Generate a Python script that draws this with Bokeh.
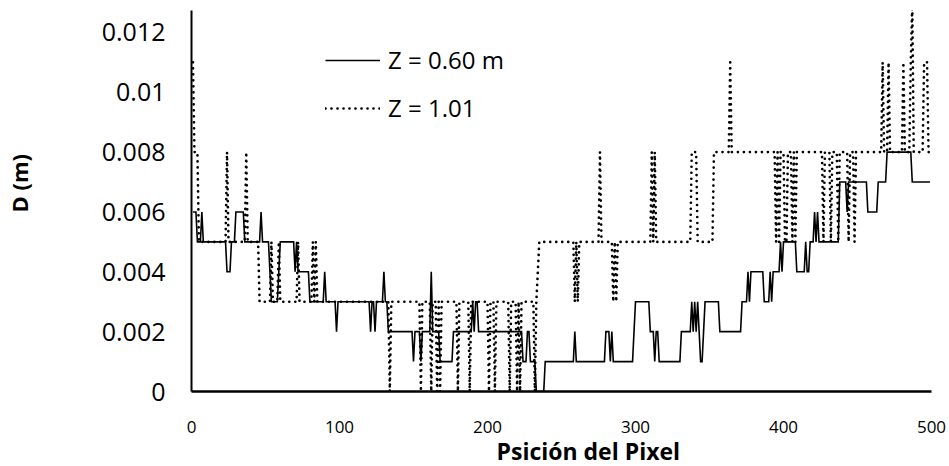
from bokeh.plotting import figure
from bokeh.models import Range1d, FixedTicker, Legend, LegendItem, Title
from bokeh.embed import file_html
from bokeh.resources import INLINE

# Pixel positions and depth readings (m) at the break points of each profile
z060_x = [1, 3, 4, 6, 7, 8, 23, 24, 26, 27, 29, 30, 35, 36, 46, 47, 48, 52, 53, 54,
          58, 59, 60, 69, 70, 71, 72, 79, 80, 89, 90, 91, 97, 98, 99, 120, 121, 122, 123, 124,
          125, 129, 130, 131, 132, 133, 149, 150, 151, 154, 155, 156, 161, 162, 163, 167, 168, 176, 177, 189,
          190, 191, 192, 193, 194, 223, 224, 226, 227, 228, 229, 232, 233, 238, 239, 258, 259, 260, 279, 280,
          282, 283, 284, 285, 298, 299, 300, 309, 310, 312, 313, 314, 315, 316, 330, 331, 337, 338, 339, 340,
          341, 342, 343, 344, 345, 346, 347, 356, 357, 371, 372, 375, 376, 377, 378, 386, 387, 390, 391, 392,
          393, 397, 398, 399, 400, 408, 409, 414, 415, 416, 417, 418, 420, 421, 422, 423, 424, 437, 438, 442,
          443, 444, 456, 457, 463, 464, 469, 470, 486, 487, 499]
z060_d = [0.006, 0.006, 0.005, 0.005, 0.006, 0.005, 0.005, 0.004, 0.004, 0.005, 0.005, 0.006, 0.006, 0.005, 0.005, 0.006, 0.005, 0.005, 0.004, 0.003,
          0.003, 0.004, 0.005, 0.005, 0.004, 0.005, 0.004, 0.004, 0.003, 0.003, 0.004, 0.003, 0.003, 0.002, 0.003, 0.003, 0.002, 0.003, 0.003, 0.002,
          0.003, 0.003, 0.004, 0.003, 0.003, 0.002, 0.002, 0.001, 0.002, 0.002, 0.001, 0.002, 0.002, 0.004, 0.002, 0.002, 0.001, 0.001, 0.002, 0.002,
          0.003, 0.002, 0.003, 0.003, 0.002, 0.002, 0.001, 0.001, 0.002, 0.002, 0.001, 0.001, 0.0, 0.0, 0.001, 0.001, 0.002, 0.001, 0.001, 0.002,
          0.002, 0.001, 0.002, 0.001, 0.001, 0.002, 0.003, 0.003, 0.002, 0.002, 0.001, 0.002, 0.002, 0.001, 0.001, 0.002, 0.002, 0.003, 0.002, 0.003,
          0.002, 0.003, 0.002, 0.001, 0.001, 0.002, 0.003, 0.003, 0.002, 0.002, 0.003, 0.003, 0.004, 0.003, 0.004, 0.004, 0.003, 0.003, 0.004, 0.003,
          0.004, 0.004, 0.005, 0.004, 0.005, 0.005, 0.004, 0.004, 0.005, 0.004, 0.004, 0.005, 0.005, 0.006, 0.005, 0.006, 0.005, 0.005, 0.007, 0.007,
          0.006, 0.007, 0.007, 0.006, 0.006, 0.007, 0.007, 0.008, 0.008, 0.007, 0.007]

z101_x = [1, 2, 4, 5, 23, 24, 25, 36, 37, 38, 45, 46, 53, 54, 55, 58, 59, 60, 71, 72,
          73, 81, 82, 83, 84, 85, 133, 134, 135, 154, 155, 156, 161, 162, 163, 165, 166, 167, 168, 169,
          179, 180, 181, 187, 188, 189, 200, 201, 202, 204, 205, 206, 214, 215, 216, 219, 220, 221, 222, 223,
          231, 232, 233, 234, 235, 258, 259, 260, 261, 262, 275, 276, 277, 284, 285, 286, 287, 288, 310, 311,
          312, 313, 314, 337, 338, 341, 342, 352, 353, 363, 364, 365, 394, 395, 396, 397, 398, 400, 401, 402,
          403, 405, 406, 407, 408, 409, 426, 427, 428, 431, 432, 433, 436, 437, 438, 443, 444, 445, 447, 448,
          449, 466, 467, 468, 470, 471, 472, 480, 481, 482, 485, 486, 487, 488, 494, 495, 497, 498, 499]
z101_d = [0.011, 0.008, 0.008, 0.005, 0.005, 0.008, 0.005, 0.005, 0.008, 0.005, 0.005, 0.003, 0.003, 0.005, 0.003, 0.003, 0.005, 0.003, 0.003, 0.005,
          0.003, 0.003, 0.005, 0.003, 0.005, 0.003, 0.003, 0.0, 0.003, 0.003, 0.0, 0.003, 0.003, 0.0, 0.003, 0.003, 0.0, 0.003, 0.0, 0.003,
          0.003, 0.0, 0.003, 0.003, 0.0, 0.003, 0.003, 0.0, 0.003, 0.003, 0.0, 0.003, 0.003, 0.0, 0.003, 0.003, 0.0, 0.003, 0.0, 0.003,
          0.003, 0.0, 0.003, 0.004, 0.005, 0.005, 0.003, 0.005, 0.003, 0.005, 0.005, 0.008, 0.005, 0.005, 0.003, 0.005, 0.003, 0.005, 0.005, 0.008,
          0.005, 0.008, 0.005, 0.005, 0.008, 0.008, 0.005, 0.005, 0.008, 0.008, 0.011, 0.008, 0.008, 0.005, 0.008, 0.005, 0.008, 0.008, 0.005, 0.005,
          0.008, 0.008, 0.005, 0.008, 0.005, 0.008, 0.008, 0.005, 0.008, 0.008, 0.005, 0.008, 0.008, 0.005, 0.008, 0.008, 0.005, 0.008, 0.008, 0.005,
          0.008, 0.008, 0.011, 0.008, 0.008, 0.011, 0.008, 0.008, 0.011, 0.008, 0.008, 0.011, 0.013, 0.008, 0.008, 0.011, 0.011, 0.008, 0.008]

x_ticks = [0, 100, 200, 300, 400, 500]
y_ticks = [0.0, 0.002, 0.004, 0.006, 0.008, 0.01, 0.012]
y_tick_labels = ["0", "0.002", "0.004", "0.006", "0.008", "0.01", "0.012"]

FONT = "Open Sans"

p = figure(width=949, height=466, output_backend="svg", toolbar_location=None,
           x_range=Range1d(0, 500), y_range=Range1d(0, 0.012733),
           min_border_left=191, min_border_right=18, min_border_top=10, min_border_bottom=74)
p.outline_line_color = None
p.grid.visible = False
p.background_fill_color = "white"
p.border_fill_color = "white"

r_a = p.line(z060_x, z060_d, line_color="black", line_width=1.6, line_join="miter")
r_b = p.line(z101_x, z101_d, line_color="black", line_width=2.7,
             line_dash="0 6", line_cap="round")

# axes
xa = p.xaxis[0]
xa.ticker = FixedTicker(ticks=x_ticks)
xa.axis_line_width = 2.5
xa.axis_line_color = "black"
xa.major_tick_line_color = None
xa.minor_tick_line_color = None
xa.major_tick_out = 0
xa.major_label_standoff = 29
xa.major_label_text_font = FONT
xa.major_label_text_font_size = "17px"
xa.major_label_text_color = "black"

ya = p.yaxis[0]
ya.ticker = FixedTicker(ticks=y_ticks)
ya.major_label_overrides = dict(zip(y_ticks, y_tick_labels))
ya.axis_line_width = 2
ya.axis_line_color = "black"
ya.major_tick_line_color = None
ya.minor_tick_line_color = None
ya.major_tick_out = 0
ya.major_label_standoff = 26
ya.major_label_text_font = FONT
ya.major_label_text_font_size = "25px"
ya.major_label_text_color = "black"
# blank axis label only reserves room between the tick labels and the axis title
ya.axis_label = " "
ya.axis_label_text_font_size = "10px"
ya.axis_label_standoff = 50

# axis titles as side-panel titles, so they can sit off-centre like the original
p.add_layout(Title(text="Psición del Pixel", align="left", offset=305, standoff=-3,
                   vertical_align="middle",
                   text_font=FONT, text_font_size="23px", text_font_style="bold",
                   text_color="black"), "below")
p.add_layout(Title(text="D (m)", align="left", offset=179, standoff=0,
                   vertical_align="middle",
                   text_font=FONT, text_font_size="22px", text_font_style="bold",
                   text_color="black"), "left")

legend = Legend(items=[LegendItem(label="Z = 0.60 m", renderers=[r_a]),
                       LegendItem(label="Z = 1.01", renderers=[r_b])],
                location=(134, 267), orientation="vertical",
                border_line_color=None, background_fill_alpha=0,
                padding=0, margin=0, spacing=15,
                glyph_width=55, glyph_height=24, label_height=24, label_standoff=8,
                label_text_font=FONT, label_text_font_size="24px", label_text_color="black")
p.add_layout(legend, "center")

open("out.html", "w").write(file_html(p, INLINE))
